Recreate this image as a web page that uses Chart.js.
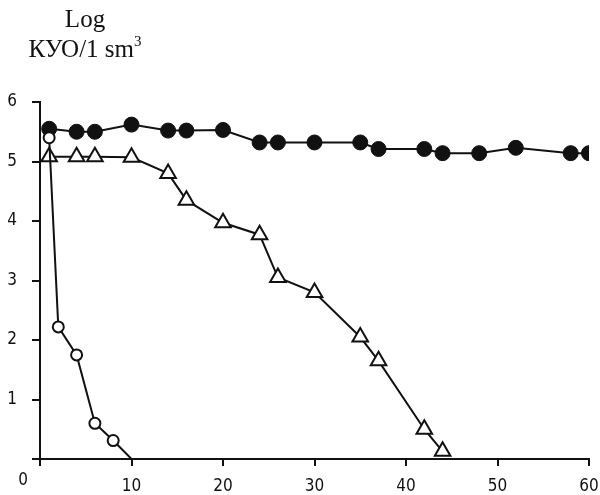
<!DOCTYPE html>
<html>
<head>
<meta charset="utf-8">
<script src="https://cdn.jsdelivr.net/npm/chart.js@4.4.1/dist/chart.umd.min.js"></script>
<style>
  html, body { margin: 0; padding: 0; background: #fff; }
  .wrap { position: relative; width: 600px; height: 495px; }
  .ylabel {
    position: absolute; left: 0; top: 4px; width: 170px;
    text-align: center; font-family: "Liberation Serif", "Times New Roman", serif;
    font-size: 25px; line-height: 30px; color: #111;
  }
  .ylabel .sup { font-size: 15px; position: relative; top: -11px; }
</style>
</head>
<body>
<div class="wrap">
  <canvas id="chart" width="600" height="495"></canvas>
  <div class="ylabel">Log<br>КУО/1 sm<span class="sup">3</span></div>
</div>
<script>
// start: Data
const filledX = [1, 4, 6, 10, 14, 16, 20, 24, 26, 30, 35, 37, 42, 44, 48, 52, 58, 60]
const filledY = [5.55, 5.5, 5.5, 5.62, 5.52, 5.52, 5.53, 5.32, 5.32, 5.32, 5.32, 5.21, 5.21, 5.14, 5.14, 5.23, 5.14, 5.14]

const triangleX = [1, 4, 6, 10, 14, 16, 20, 24, 26, 30, 35, 37, 42, 44]
const triangleY = [5.08, 5.08, 5.08, 5.07, 4.8, 4.35, 3.97, 3.77, 3.05, 2.8, 2.05, 1.65, 0.5, 0.13]

const openX = [1, 2, 4, 6, 8, 10]
const openY = [5.4, 2.22, 1.75, 0.6, 0.31, 0]

const xTicks = [0, 10, 20, 30, 40, 50, 60]
const yTicks = [0, 1, 2, 3, 4, 5, 6]
// end: Data

function toPoints(xs, ys) {
    const data = []
    for (let i = 0; i < xs.length; i++) {
        data.push({ x: xs[i], y: ys[i] })
    }
    return data
}

const ink = '#111'
const tickFont = { family: '"Liberation Sans Narrow", "DejaVu Sans Condensed", Arial, sans-serif', size: 17 }

// the shared "0" sits in the corner, below and left of the origin
const cornerZero = {
    id: 'cornerZero',
    afterDraw(chart) {
        const ctx = chart.ctx
        const x = chart.scales.x.getPixelForValue(0)
        const y = chart.scales.y.getPixelForValue(0)
        ctx.save()
        ctx.fillStyle = ink
        ctx.font = tickFont.size + 'px ' + tickFont.family
        ctx.textAlign = 'center'
        ctx.textBaseline = 'middle'
        ctx.fillText('0', x - 17, y + 22)
        ctx.restore()
    }
}

// start: Chart
new Chart(document.getElementById('chart'), {
    type: 'line',
    data: {
        datasets: [
            {
                label: 'open circles',
                data: toPoints(openX, openY),
                borderColor: ink,
                borderWidth: 2,
                pointStyle: 'circle',
                pointRadius: openY.map((v, i) => i === openY.length - 1 ? 0 : 5.5),
                pointBorderWidth: 2,
                pointBorderColor: ink,
                pointBackgroundColor: '#fff',
                tension: 0,
                order: 1
            },
            {
                label: 'triangles',
                data: toPoints(triangleX, triangleY),
                borderColor: ink,
                borderWidth: 2,
                pointStyle: 'triangle',
                pointRadius: 9,
                pointBorderWidth: 2,
                pointBorderColor: ink,
                pointBackgroundColor: '#fff',
                tension: 0,
                order: 2
            },
            {
                label: 'filled circles',
                data: toPoints(filledX, filledY),
                borderColor: ink,
                borderWidth: 2,
                pointStyle: 'circle',
                pointRadius: 7.5,
                pointBorderWidth: 1,
                pointBorderColor: ink,
                pointBackgroundColor: ink,
                tension: 0,
                order: 3
            }
        ]
    },
    options: {
        responsive: false,
        animation: false,
        layout: {
            padding: { left: 0, top: 102, right: 9, bottom: 0 }
        },
        plugins: {
            legend: { display: false },
            tooltip: { enabled: false }
        },
        scales: {
            x: {
                type: 'linear',
                min: 0,
                max: 60,
                afterBuildTicks: function (scale) {
                    scale.ticks = xTicks.map(v => ({ value: v }))
                },
                afterFit: function (scale) {
                    scale.height = 36
                    scale.paddingLeft = 0
                    scale.paddingRight = 0
                },
                border: { display: true, color: ink, width: 2 },
                grid: { drawOnChartArea: false, drawTicks: true, tickLength: 7, color: ink, lineWidth: 2 },
                ticks: {
                    color: ink,
                    padding: 10,
                    maxRotation: 0,
                    font: tickFont,
                    callback: v => v === 0 ? '' : v
                }
            },
            y: {
                min: 0,
                max: 6,
                afterBuildTicks: function (scale) {
                    scale.ticks = yTicks.map(v => ({ value: v }))
                },
                afterFit: function (scale) {
                    scale.width = 40
                    scale.paddingTop = 0
                    scale.paddingBottom = 0
                },
                border: { display: true, color: ink, width: 2 },
                grid: { drawOnChartArea: false, drawTicks: true, tickLength: 8, color: ink, lineWidth: 2 },
                ticks: {
                    color: ink,
                    padding: 15,
                    font: tickFont,
                    callback: v => v === 0 ? '' : v
                }
            }
        }
    },
    plugins: [cornerZero]
});
// end: Chart
</script>
</body>
</html>
